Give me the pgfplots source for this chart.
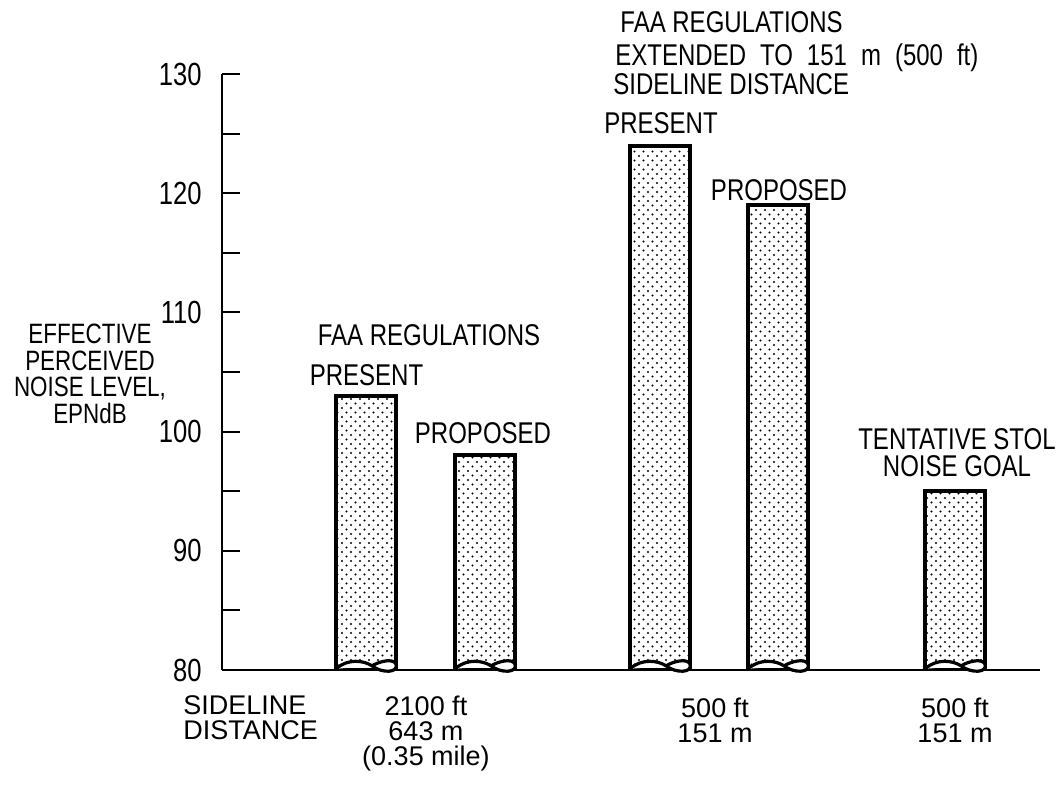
\documentclass[border=0pt]{standalone}
\usepackage{pgfplots}
\pgfplotsset{compat=1.18}
\usepackage{fontspec}
\setmainfont{Liberation Sans}[FakeStretch=0.8]
\newfontfamily\plainfont{Liberation Sans}
\usetikzlibrary{patterns}
\pgfdeclarepatternformonly{mydots}{\pgfqpoint{-1pt}{-1pt}}{\pgfqpoint{5.5pt}{5.5pt}}{\pgfqpoint{4.5pt}{4.5pt}}{%
  \pgfpathcircle{\pgfqpoint{0pt}{0pt}}{0.6pt}%
  \pgfpathcircle{\pgfqpoint{2.25pt}{2.25pt}}{0.6pt}%
  \pgfusepath{fill}}
\begin{document}
\begin{tikzpicture}[every node/.append style={inner sep=0pt}]
\begin{axis}[
  scale only axis,
  x=0.5pt, y=5.96pt,
  xmin=0, xmax=818, ymin=80, ymax=130,
  axis x line=bottom, axis y line=left,
  axis line style={-, line width=1pt},
  xtick=\empty,
  ytick={80,90,...,130},
  minor ytick={85,95,...,125},
  tick align=inside,
  major tick length=9pt, minor tick length=9pt,
  every tick/.style={black, line width=1pt},
  yticklabel style={font=\fontsize{16}{16}\selectfont, inner sep=0pt, xshift=-10pt},
  /pgf/number format/assume math mode=true,
  clip mode=individual,
]
\addplot[ybar, bar width=60, bar shift=0pt, draw=black, line width=2pt,
  pattern=mydots, pattern color=black]
  coordinates {(144,103) (263,98) (438,124) (556,119) (733,95)};

\pgfplotsinvokeforeach{144,263,438,556,733}{
  \draw[line width=1.6pt, fill=white]
    (axis cs:{#1-30},80.1) .. controls (axis cs:{#1-18},81.0) and (axis cs:{#1-2},80.8) .. (axis cs:{#1+6},80.35)
    .. controls (axis cs:{#1+16},79.7) and (axis cs:{#1+33},79.75) .. (axis cs:{#1+30},80.5)
    .. controls (axis cs:{#1+27},81.0) and (axis cs:{#1+14},80.75) .. (axis cs:{#1+6},80.35);
}

\def\lf{\fontsize{15}{12.5}\selectfont}
\def\bf{\plainfont\fontsize{13.5}{12.5}\selectfont}
\node[font=\fontsize{14}{13.2}\selectfont, align=center, anchor=base] at (axis cs:-132,100.72)
  {EFFECTIVE\\PERCEIVED\\NOISE LEVEL,\\EPNdB};
\node[font=\lf, anchor=base] at (axis cs:207,107.26) {FAA REGULATIONS};
\node[font=\lf, anchor=base] at (axis cs:144.5,103.91) {PRESENT};
\node[font=\lf, anchor=base] at (axis cs:261,99.04) {PROPOSED};
\node[font=\lf, anchor=base west] at (axis cs:398,133.52) {FAA REGULATIONS};
\node[font=\lf, anchor=base west] at (axis cs:393,130.75) {\spaceskip=7pt EXTENDED TO 151 m (500 ft)};
\node[font=\lf, anchor=base west] at (axis cs:391,128.24) {SIDELINE DISTANCE};
\node[font=\lf, anchor=base] at (axis cs:439,125.05) {PRESENT};
\node[font=\lf, anchor=base] at (axis cs:557,119.43) {PROPOSED};
\node[font=\fontsize{15}{13.5}\selectfont, align=center, anchor=base] at (axis cs:735,96.27) {TENTATIVE STOL\\NOISE GOAL};
\node[font=\bf, align=left, anchor=base west] at (axis cs:-39,74.13) {SIDELINE\\DISTANCE};
\node[font=\bf, align=center, anchor=base] at (axis cs:204,72.03) {2100 ft\\643 m\\(0.35 mile)};
\node[font=\bf, align=center, anchor=base] at (axis cs:493,73.96) {500 ft\\151 m};
\node[font=\bf, align=center, anchor=base] at (axis cs:733,73.96) {500 ft\\151 m};

\coordinate (bl) at (axis cs:-222,70.27);
\coordinate (tr) at (axis cs:841,136.21);
\end{axis}
\path (bl) rectangle (tr);
\end{tikzpicture}
\end{document}
